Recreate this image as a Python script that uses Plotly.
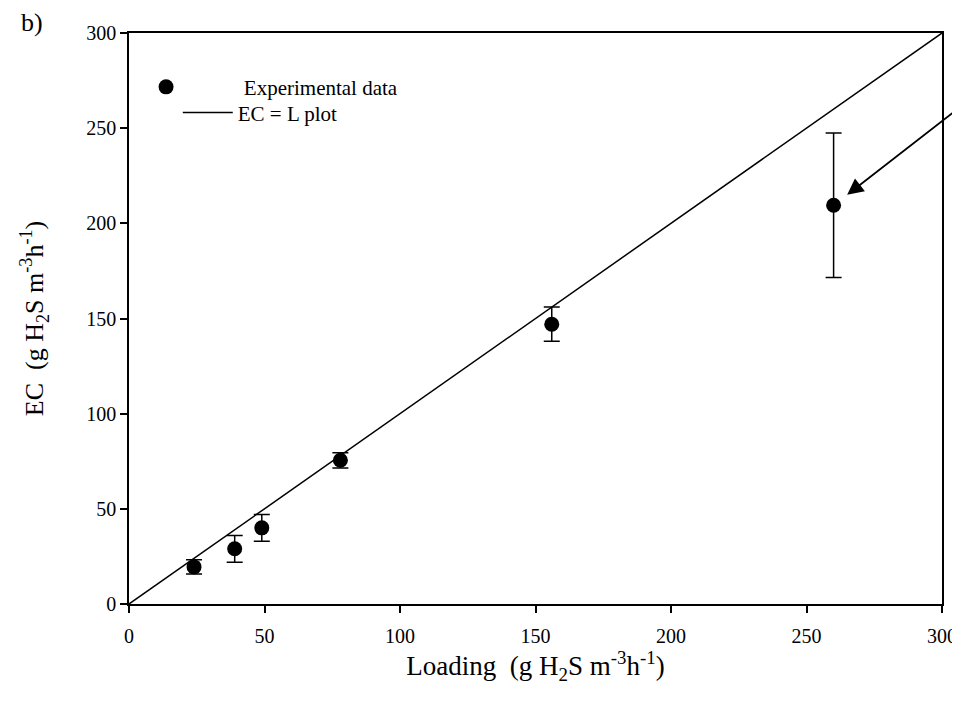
import plotly.graph_objects as go

loading = [24, 39, 49, 78, 156, 260]
ec = [19.5, 29, 40, 75.5, 147, 209.5]
ec_err = [3.8, 7, 7, 4, 9, 38]
line_x = [0, 300]
line_y = [0, 300]
ticks = [0, 50, 100, 150, 200, 250, 300]

FONT = "Liberation Serif, Times New Roman, serif"
NB = "\u00a0"

fig = go.Figure()
fig.add_trace(go.Scatter(
    x=loading, y=ec, mode="markers", showlegend=False,
    marker=dict(color="black", size=15),
    error_y=dict(type="data", array=ec_err, color="black", thickness=1.5, width=8),
))
fig.add_trace(go.Scatter(
    x=[None], y=[None], mode="markers", name=NB * 11 + "Experimental data",
    marker=dict(color="black", size=15), legend="legend",
))
fig.add_trace(go.Scatter(
    x=line_x, y=line_y, mode="lines", name="EC = L plot",
    line=dict(color="black", width=1.5), legend="legend2",
))

axis_common = dict(
    range=[0, 300], tickvals=ticks, ticks="outside", ticklen=7, tickwidth=1.5,
    tickcolor="black", showline=True, linecolor="black", linewidth=1.5,
    mirror=True, showgrid=False, zeroline=False, ticklabeloverflow="allow",
    automargin=False,
    tickfont=dict(family=FONT, size=20, color="black"),
)

legend_common = dict(xanchor="left", yanchor="top", bgcolor="rgba(0,0,0,0)",
                     font=dict(family=FONT, size=21))

fig.update_layout(
    width=952, height=691,
    margin=dict(l=121, r=18, t=25, b=95),
    paper_bgcolor="white", plot_bgcolor="white",
    font=dict(family=FONT, size=20, color="black"),
    xaxis=dict(axis_common, ticklabelstandoff=6, title=dict(
        text="Loading  (g H<sub>2</sub>S m<sup>-3</sup>h<sup>-1</sup>)",
        font=dict(family=FONT, size=27), standoff=6)),
    yaxis=dict(axis_common, title=dict(
        text="EC  (g H<sub>2</sub>S m<sup>-3</sup>h<sup>-1</sup>)",
        font=dict(family=FONT, size=26), standoff=35)),
    legend=dict(legend_common, x=0.021, y=0.941, itemwidth=30),
    legend2=dict(legend_common, x=0.060, y=0.896, itemwidth=50),
    annotations=[
        dict(text="b)", xref="paper", yref="paper", x=-0.119, y=1.019,
             xanchor="center", yanchor="middle", showarrow=False,
             font=dict(family=FONT, size=26)),
        dict(x=265, y=215, ax=306.6, ay=261, xref="x", yref="y",
             axref="x", ayref="y", text="", showarrow=True,
             arrowhead=2, arrowsize=1.8, arrowwidth=1.8, arrowcolor="black"),
    ],
)

fig.write_html("out.html")
